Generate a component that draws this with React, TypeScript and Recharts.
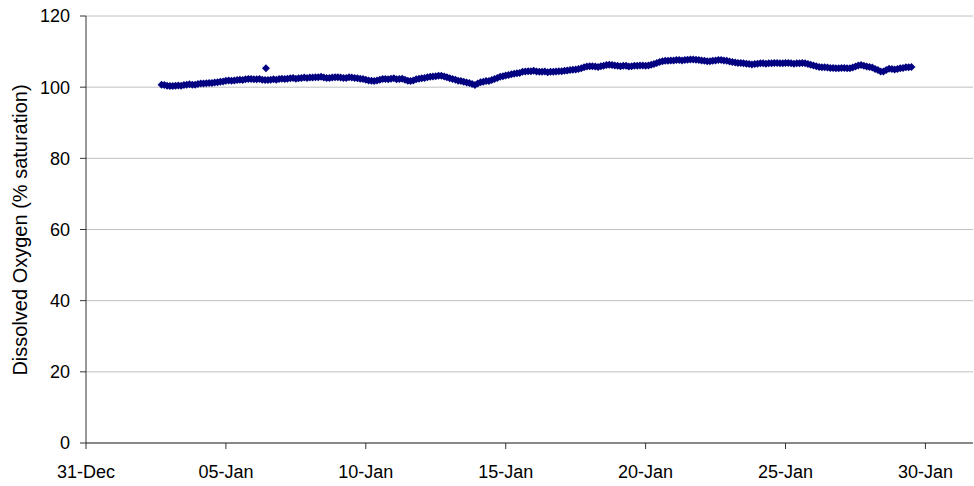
import React from "react";
import {
  ScatterChart,
  Scatter,
  CartesianGrid,
  XAxis,
  YAxis,
} from "recharts";

// days counted from 31-Dec (day 0); readings every 0.1 day starting at day 2.7
const START_DAY = 2.7;
const STEP_DAYS = 0.1;

const oxygenValues = [
  100.7, 100.6, 100.4, 100.3, 100.3, 100.4, 100.5, 100.4, 100.6, 100.7,
  100.8, 100.7, 100.7, 100.9, 101.0, 101.0, 101.1, 101.2, 101.2, 101.3,
  101.4, 101.5, 101.6, 101.8, 101.9, 101.8, 101.9, 102.0, 102.1, 102.0,
  102.2, 102.3, 102.3, 102.2, 102.2, 102.3, 102.1, 102.0, 102.0, 102.1,
  102.2, 102.1, 102.3, 102.4, 102.3, 102.4, 102.5, 102.6, 102.4, 102.5,
  102.6, 102.7, 102.6, 102.7, 102.7, 102.8, 102.8, 102.9, 102.7, 102.6,
  102.6, 102.7, 102.8, 102.8, 102.7, 102.6, 102.6, 102.8, 102.7, 102.6,
  102.5, 102.4, 102.3, 102.1, 101.9, 101.8, 101.7, 101.9, 102.1, 102.3,
  102.3, 102.2, 102.4, 102.5, 102.2, 102.3, 102.4, 102.1, 101.8, 101.7,
  101.9, 102.2, 102.4, 102.5, 102.6, 102.8, 102.9, 103.0, 103.1, 103.2,
  103.2, 103.0, 102.8, 102.5, 102.3, 102.1, 101.8, 101.7, 101.5, 101.3,
  101.2, 100.9, 100.6, 101.0, 101.4, 101.5, 101.7, 101.7, 102.0, 102.3,
  102.6, 102.9, 103.1, 103.3, 103.4, 103.6, 103.8, 103.9, 104.0, 104.3,
  104.4, 104.5, 104.5, 104.6, 104.4, 104.3, 104.3, 104.4, 104.2, 104.3,
  104.3, 104.4, 104.5, 104.5, 104.6, 104.7, 104.8, 104.9, 105.0, 105.1,
  105.3, 105.6, 105.8, 105.9, 105.9, 105.8, 105.7, 105.9, 106.0, 106.2,
  106.3, 106.2, 106.1, 106.0, 105.9, 106.0, 106.0, 105.8, 105.9, 106.0,
  106.0, 106.1, 106.1, 106.0, 106.1, 106.3, 106.5, 106.8, 107.1, 107.3,
  107.4, 107.4, 107.5, 107.5, 107.6, 107.6, 107.5, 107.6, 107.7, 107.8,
  107.8, 107.7, 107.6, 107.5, 107.4, 107.3, 107.3, 107.4, 107.5, 107.6,
  107.6, 107.5, 107.4, 107.2, 107.1, 106.9, 106.8, 106.8, 106.7, 106.6,
  106.5, 106.4, 106.5, 106.6, 106.7, 106.7, 106.6, 106.7, 106.7, 106.8,
  106.8, 106.7, 106.7, 106.8, 106.8, 106.7, 106.6, 106.7, 106.7, 106.8,
  106.7, 106.5, 106.3, 106.1, 105.9, 105.7, 105.6, 105.6, 105.5, 105.4,
  105.4, 105.3, 105.3, 105.4, 105.4, 105.3, 105.3, 105.5, 105.8, 106.1,
  106.2, 106.0, 105.8, 105.7, 105.5, 105.1, 104.8, 104.4, 104.4, 104.8,
  105.2, 105.1, 105.0, 105.1, 105.3, 105.4, 105.6, 105.6, 105.7,
];

// single stray reading above the main trace
const strayDays = [6.43];
const strayValues = [105.3];

const xTicks = [0, 5, 10, 15, 20, 25, 30];
const xTickLabels = ["31-Dec", "05-Jan", "10-Jan", "15-Jan", "20-Jan", "25-Jan", "30-Jan"];
const yTicks = [0, 20, 40, 60, 80, 100, 120];

const FONT = "Arial, 'Liberation Sans', sans-serif";
const NAVY = "#000080";

const points = [
  ...oxygenValues.map((v, i) => ({ day: START_DAY + i * STEP_DAYS, value: v })),
  ...strayDays.map((d, i) => ({ day: d, value: strayValues[i] })),
];

const Diamond = (props: any) => {
  const { cx, cy } = props;
  const r = 4;
  return (
    <polygon
      points={`${cx},${cy - r} ${cx + r},${cy} ${cx},${cy + r} ${cx - r},${cy}`}
      fill={NAVY}
    />
  );
};

export default function App() {
  return (
    <div style={{ position: "absolute", left: 0, top: 0, background: "#fff" }}>
      <ScatterChart
        width={974}
        height={486}
        margin={{ top: 16, right: 1, bottom: 0, left: 0 }}
      >
        <CartesianGrid vertical={false} stroke="#c0c0c0" />
        <XAxis
          type="number"
          dataKey="day"
          domain={[0, 31.7]}
          ticks={xTicks}
          tickFormatter={(d: number) => xTickLabels[xTicks.indexOf(d)]}
          height={43}
          tickSize={6}
          tickMargin={16}
          stroke="#333"
          tick={{ fill: "#000", fontSize: 18, fontFamily: FONT }}
          allowDataOverflow
        />
        <YAxis
          type="number"
          dataKey="value"
          domain={[0, 120]}
          ticks={yTicks}
          width={86}
          tickSize={6}
          tickMargin={10}
          stroke="#333"
          tick={{ fill: "#000", fontSize: 18, fontFamily: FONT }}
          label={{
            content: () => (
              <text
                x={20}
                y={230}
                transform="rotate(-90 20 230)"
                textAnchor="middle"
                dominantBaseline="central"
                fontSize={20}
                fontFamily={FONT}
                fill="#000"
              >
                Dissolved Oxygen (% saturation)
              </text>
            ),
          }}
        />
        <Scatter
          data={points}
          fill={NAVY}
          shape={Diamond}
          isAnimationActive={false}
        />
      </ScatterChart>
    </div>
  );
}
